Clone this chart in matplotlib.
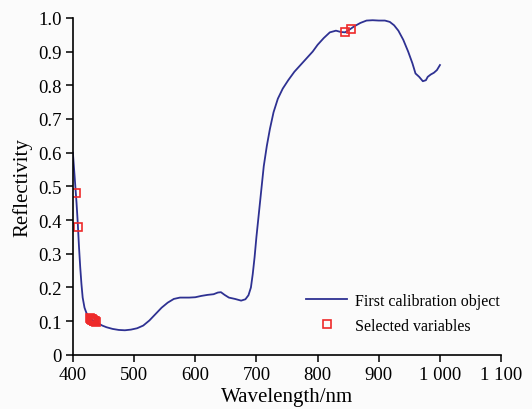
import matplotlib
matplotlib.use('Agg')
import matplotlib.pyplot as plt
from matplotlib.ticker import FuncFormatter

# reflectance spectrum of the first calibration object
wavelength = [400, 402, 404, 406, 408, 410, 412, 414, 416, 419, 422, 426, 430, 435, 440,
              448, 455, 465, 475, 485, 495, 505, 515, 525, 535, 545, 555, 565, 575, 590,
              600, 610, 620, 630, 637, 642, 648, 655, 665, 675, 682, 687, 691, 694, 697,
              700, 704, 708, 712, 717, 722, 728, 735, 743, 752, 762, 772, 782, 792, 800,
              810, 820, 830, 838, 845, 852, 860, 870, 880, 890, 900, 910, 918, 925, 932,
              940, 948, 955, 960, 966, 972, 977, 980, 985, 990, 995, 1000]
reflectivity = [0.60, 0.55, 0.50, 0.45, 0.39, 0.32, 0.26, 0.21, 0.17, 0.14, 0.125, 0.112, 0.105, 0.100, 0.095,
                0.087, 0.082, 0.077, 0.074, 0.073, 0.075, 0.079, 0.087, 0.102, 0.121, 0.140, 0.155, 0.166, 0.170, 0.170,
                0.171, 0.175, 0.178, 0.180, 0.185, 0.186, 0.178, 0.170, 0.166, 0.161, 0.165, 0.177, 0.20, 0.24, 0.29,
                0.35, 0.42, 0.49, 0.56, 0.62, 0.67, 0.72, 0.76, 0.79, 0.815, 0.84, 0.86, 0.88, 0.90, 0.92,
                0.94, 0.957, 0.962, 0.958, 0.957, 0.965, 0.975, 0.985, 0.992, 0.993, 0.992, 0.992, 0.988, 0.978, 0.962,
                0.935, 0.90, 0.865, 0.835, 0.825, 0.812, 0.815, 0.825, 0.832, 0.837, 0.845, 0.86]

# wavelengths picked by variable selection
sel_wl = [405, 408, 428, 429, 430, 431, 432, 433, 434, 435, 436, 437, 845, 855]
sel_r = [0.48, 0.38, 0.108, 0.107, 0.106, 0.105, 0.104, 0.103, 0.102, 0.101, 0.100, 0.099, 0.957, 0.967]

plt.rcParams['font.family'] = ['Liberation Serif', 'DejaVu Serif']

fig = plt.figure(figsize=(5.32, 4.10), dpi=100, facecolor='#fbfbfb')
ax = fig.add_axes([0.137, 0.132, 0.805, 0.822], facecolor='#fbfbfb')

ax.plot(wavelength, reflectivity, color='#2e3192', lw=1.3, label='First calibration object')
ax.plot(sel_wl, sel_r, ls='none', marker='s', ms=5.5, mfc='none', mec='#ee2a2a', mew=1.2,
        label='Selected variables')

ax.set_xlim(400, 1100)
ax.set_ylim(0, 1.0)
ax.set_xticks(range(400, 1101, 100))
ax.set_yticks([i / 10 for i in range(11)])
ax.xaxis.set_major_formatter(FuncFormatter(lambda v, p: f'{int(v):,}'.replace(',', ' ')))
ax.yaxis.set_major_formatter(FuncFormatter(lambda v, p: '0' if v == 0 else f'{v:.1f}'))

for side in ['top', 'right']:
    ax.spines[side].set_visible(False)
ax.spines['left'].set_linewidth(1.2)
ax.spines['bottom'].set_linewidth(1.2)
ax.tick_params(direction='out', length=5, width=1.1, labelsize=13.5, pad=3)

ax.set_xlabel('Wavelength/nm', fontsize=15, labelpad=3)
ax.set_ylabel('Reflectivity', fontsize=15, labelpad=4)

ax.legend(loc='lower right', bbox_to_anchor=(1.02, 0.035), frameon=False, fontsize=11.5,
          handlelength=2.6, labelspacing=0.55, handletextpad=0.5, borderaxespad=0.2)

fig.savefig('out.png', dpi=100, facecolor=fig.get_facecolor())
